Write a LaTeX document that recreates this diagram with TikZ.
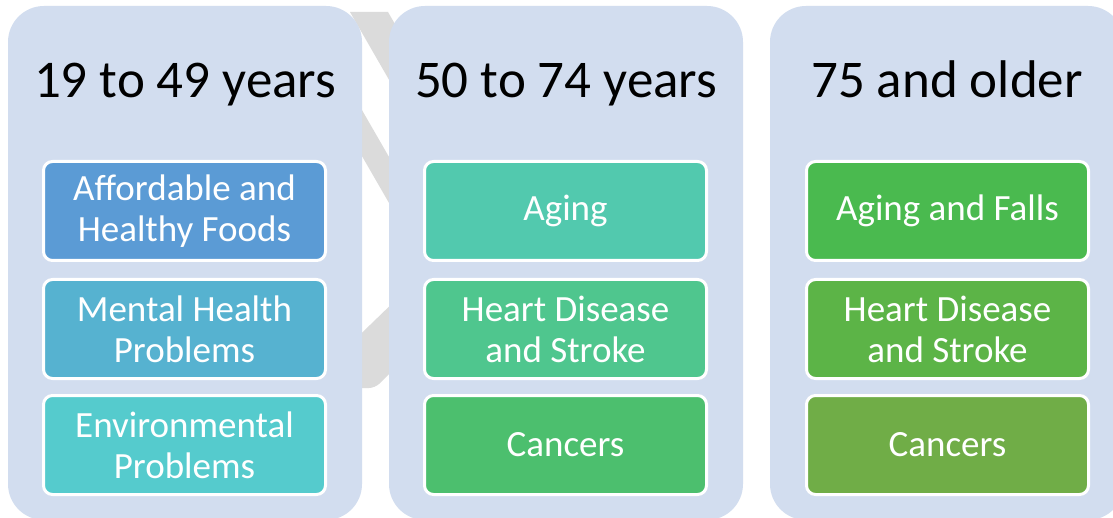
\documentclass[tikz,border=0pt]{standalone}
\usepackage{fontspec}
\setmainfont{Carlito}

\definecolor{panelbg}{HTML}{D2DDEF}
\definecolor{backgray}{HTML}{DBDBDB}
\definecolor{itemA}{HTML}{5B9BD5}
\definecolor{itemB}{HTML}{56B2D0}
\definecolor{itemC}{HTML}{55CBCD}
\definecolor{itemD}{HTML}{52C9AE}
\definecolor{itemE}{HTML}{4FC68E}
\definecolor{itemF}{HTML}{4CBF6E}
\definecolor{itemG}{HTML}{4ABA4F}
\definecolor{itemH}{HTML}{5CB447}
\definecolor{itemI}{HTML}{70AD47}

\begin{document}
\begin{tikzpicture}[x=1pt,y=-1pt,
  panel/.style={fill=panelbg, rounded corners=36pt, minimum width=354pt,
    minimum height=514pt, inner sep=0pt},
  head/.style={font=\fontsize{53}{60}\selectfont, inner sep=0pt, anchor=base},
  item/.style={draw=white, line width=3pt, rounded corners=9pt,
    minimum width=282pt, minimum height=99pt, inner sep=0pt,
    align=center, text=white, font=\fontsize{37}{41}\selectfont}]
  \useasboundingbox (0,0) rectangle (1113,518);
  \fill[white] (0,0) rectangle (1113,518);

  \path (185,263) coordinate (C1);
  \path (566,263) coordinate (C2);
  \path (947,263) coordinate (C3);

  % gray arrow pieces behind the panels
  \fill[backgray] (350,12) -- (388,12) -- (430,85) -- (430,151) -- cycle;
  \fill[backgray] (340,72) -- (400,176) -- (400,222) -- (340,118) -- cycle;
  \fill[backgray, rounded corners=6pt]
    (340,354) -- (400,296) -- (400,363) -- (375,388) -- (340,388) -- cycle;

  \node[panel] (col1) at (C1) {};
  \node[panel] (col2) at (C2) {};
  \node[panel] (col3) at (C3) {};

  \node[head] (head1) at (185,98) {19 to 49 years};
  \node[head] (head2) at (566,98) {50 to 74 years};
  \node[head] (head3) at (947,98) {75 and older};

  \node[item, fill=itemA] (foods)   at (184.5,211) {Affordable and\\Healthy Foods};
  \node[item, fill=itemB] (mental)  at (184.5,329) {Mental Health\\Problems};
  \node[item, fill=itemC] (environ) at (184.5,445) {Environmental\\Problems};

  \node[item, fill=itemD] (aging)   at (565.5,211) {Aging};
  \node[item, fill=itemE] (heartA)  at (565.5,329) {Heart Disease\\and Stroke};
  \node[item, fill=itemF] (cancerA) at (565.5,445) {Cancers};

  \node[item, fill=itemG] (falls)   at (947.5,211) {Aging and Falls};
  \node[item, fill=itemH] (heartB)  at (947.5,329) {Heart Disease\\and Stroke};
  \node[item, fill=itemI] (cancerB) at (947.5,445) {Cancers};

\end{tikzpicture}
\end{document}
